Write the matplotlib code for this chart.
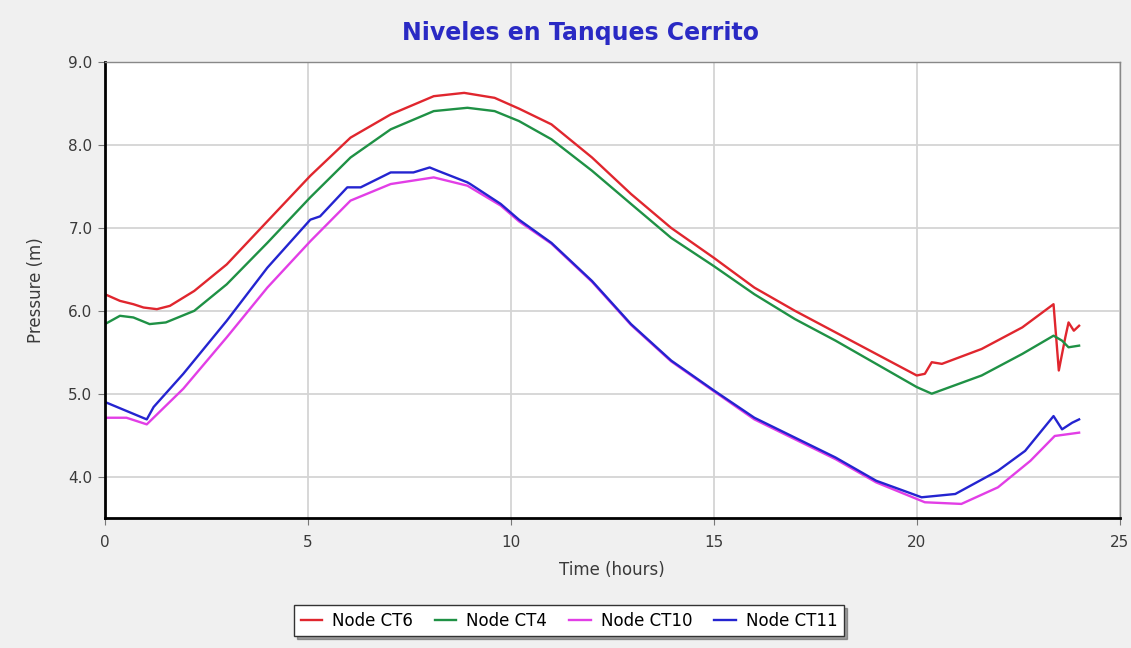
import matplotlib
matplotlib.use('Agg')
import matplotlib.pyplot as plt

plt.rcParams['font.family'] = ['DejaVu Sans']

# Node CT6
t_ct6 = [0, 0.37, 0.7, 0.95, 1.28, 1.6, 2.2, 3.0, 4.0, 5.06, 6.05, 7.04, 8.1, 8.85,
         9.6, 10.2, 11, 12, 12.96, 13.95, 15, 16, 17, 18, 19, 20.0, 20.2, 20.37,
         20.62, 21.6, 22.6, 23.37, 23.5, 23.66, 23.74, 23.87, 24.0]
p_ct6 = [6.20, 6.12, 6.08, 6.04, 6.02, 6.06, 6.24, 6.56, 7.08, 7.63, 8.09, 8.37, 8.59, 8.63,
         8.57, 8.44, 8.25, 7.85, 7.41, 7.00, 6.64, 6.28, 6.00, 5.74, 5.48, 5.22, 5.24, 5.38,
         5.36, 5.54, 5.80, 6.08, 5.28, 5.68, 5.86, 5.76, 5.82]

# Node CT4
t_ct4 = [0, 0.37, 0.7, 1.1, 1.5, 2.2, 3.0, 4.0, 5.06, 6.05, 7.04, 8.1, 8.93, 9.6, 10.2,
         11, 12, 12.96, 13.95, 15, 16, 17, 18, 19, 20.0, 20.37, 21.6, 22.6, 23.37,
         23.58, 23.74, 24.0]
p_ct4 = [5.84, 5.94, 5.92, 5.84, 5.86, 6.00, 6.32, 6.82, 7.37, 7.85, 8.19, 8.41, 8.45, 8.41, 8.29,
         8.07, 7.69, 7.29, 6.88, 6.54, 6.20, 5.90, 5.64, 5.36, 5.08, 5.00, 5.22, 5.48, 5.70,
         5.64, 5.56, 5.58]

# Node CT10
t_ct10 = [0, 0.53, 1.03, 1.93, 3.0, 4.0, 5.06, 6.05, 7.04, 8.1, 8.93, 9.75, 10.2, 11, 12,
          12.96, 13.95, 15, 16, 17, 18, 19, 20.2, 21.1, 22.0, 22.8, 23.4, 24.0]
p_ct10 = [4.71, 4.71, 4.63, 5.06, 5.68, 6.28, 6.84, 7.33, 7.53, 7.61, 7.51, 7.27, 7.08, 6.81, 6.35,
          5.83, 5.39, 5.03, 4.69, 4.45, 4.21, 3.93, 3.69, 3.67, 3.87, 4.19, 4.49, 4.53]

# Node CT11
t_ct11 = [0, 1.03, 1.2, 1.93, 3.0, 4.0, 5.06, 5.3, 5.97, 6.3, 7.04, 7.6, 8.0, 8.2, 8.93, 9.0,
          9.75, 10.2, 11, 12, 12.96, 13.95, 15, 16, 17, 18, 19, 20.12, 20.95, 22.0, 22.67,
          23.37, 23.58, 23.83, 24.0]
p_ct11 = [4.90, 4.69, 4.84, 5.24, 5.88, 6.52, 7.10, 7.14, 7.49, 7.49, 7.67, 7.67, 7.73, 7.69, 7.55, 7.53,
          7.29, 7.10, 6.82, 6.36, 5.84, 5.40, 5.04, 4.71, 4.47, 4.23, 3.95, 3.75, 3.79, 4.07, 4.31,
          4.73, 4.57, 4.65, 4.69]

series = [
    ('Node CT6', t_ct6, p_ct6, '#e0262e'),
    ('Node CT4', t_ct4, p_ct4, '#1f9145'),
    ('Node CT10', t_ct10, p_ct10, '#e23ee6'),
    ('Node CT11', t_ct11, p_ct11, '#2424d0'),
]

fig = plt.figure(figsize=(11.31, 6.48), dpi=100)
fig.patch.set_facecolor('#f0f0f0')
ax = fig.add_axes([0.0928, 0.2006, 0.8972, 0.7034])
ax.set_facecolor('white')

for nombre, t, p, col in series:
    ax.plot(t, p, color=col, lw=1.7, label=nombre)

ax.set_xlim(0, 25)
ax.set_ylim(3.5, 9.0)
ax.set_xticks([0, 5, 10, 15, 20, 25])
ax.set_yticks([4.0, 5.0, 6.0, 7.0, 8.0, 9.0])
ax.set_yticklabels(['4.0', '5.0', '6.0', '7.0', '8.0', '9.0'])
ax.grid(True, color='#d4d4d4', lw=1.3)
ax.set_axisbelow(True)

# ejes y marcas
ax.tick_params(axis='both', labelsize=11, colors='#777777', labelcolor='#3a3a3a',
               length=5, width=0.8)
ax.tick_params(axis='x', pad=7)
ax.tick_params(axis='y', pad=4)
for lado in ['left', 'bottom']:
    ax.spines[lado].set_color('black')
    ax.spines[lado].set_linewidth(2)
for lado in ['top', 'right']:
    ax.spines[lado].set_color('#888888')
    ax.spines[lado].set_linewidth(1)

ax.set_xlabel('Time (hours)', fontsize=12, color='#3a3a3a', labelpad=8)
ax.set_ylabel('Pressure (m)', fontsize=12, color='#3a3a3a', labelpad=17)

fig.text(0.513, 0.949, 'Niveles en Tanques Cerrito', ha='center', va='center',
         fontsize=17, fontweight='bold', color='#2a2ac4')

leg = fig.legend(loc='center', bbox_to_anchor=(0.503, 0.042), ncol=4, fontsize=12,
                 frameon=True, fancybox=False, shadow=True, handlelength=1.3,
                 columnspacing=1.3, handletextpad=0.6, borderpad=0.4)
leg.get_frame().set_edgecolor('#333333')
leg.get_frame().set_linewidth(1)

fig.savefig('out.png', dpi=100, facecolor=fig.get_facecolor())
